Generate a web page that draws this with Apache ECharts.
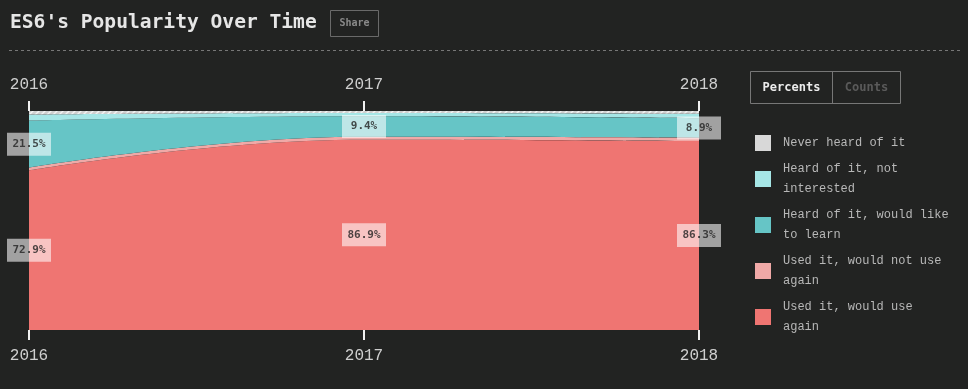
<!DOCTYPE html>
<html><head><meta charset="utf-8">
<script src="https://cdn.jsdelivr.net/npm/echarts@6/dist/echarts.min.js"></script>
<style>html,body{margin:0;padding:0;background:#222322;}#c{width:968px;height:389px;}</style>
</head><body><div id="c"></div>
<script>
var years = ['2016', '2017', '2018'];
var usedWouldUse = [72.9, 86.9, 86.3];
var usedNotAgain = [1.2, 1.3, 1.5];
var wouldLearn = [21.5, 9.4, 8.9];
var notInterested = [2.8, 1.5, 2.0];
var neverHeard = [1.6, 0.9, 1.3];
var seriesNames = ['Used it, would use again', 'Used it, would not use again', 'Heard of it, would like to learn', 'Heard of it, not interested', 'Never heard of it'];
var legendLabels = {
  'Never heard of it': 'Never heard of it',
  'Heard of it, not interested': 'Heard of it, not\ninterested',
  'Heard of it, would like to learn': 'Heard of it, would like\nto learn',
  'Used it, would not use again': 'Used it, would not use\nagain',
  'Used it, would use again': 'Used it, would use\nagain'
};
var colors = ['#ef7572', '#f0a9a7', '#66c5c6', '#a6e6e6', '#d8d8d8'];

// hatch pattern for "never heard"
var pc = document.createElement('canvas');
pc.width = 6; pc.height = 6;
var px = pc.getContext('2d');
px.fillStyle = '#cfcfcf'; px.fillRect(0,0,6,6);
px.strokeStyle = '#f2f2f2'; px.lineWidth = 1.5;
px.beginPath(); px.moveTo(0,6); px.lineTo(6,0); px.moveTo(-3,3); px.lineTo(3,-3); px.moveTo(3,9); px.lineTo(9,3); px.stroke();

var values = [usedWouldUse, usedNotAgain, wouldLearn, notInterested, neverHeard];
var series = values.map(function (v, k) {
  return {
    name: seriesNames[k], type: 'line', stack: 'all', smooth: 0.45, symbol: 'none',
    data: v, lineStyle: {width: 0},
    itemStyle: {color: colors[k]},
    areaStyle: {color: k === 4 ? {image: pc, repeat: 'repeat'} : colors[k], opacity: 1},
    emphasis: {disabled: true}, silent: true
  };
});
var labelData = [];
years.forEach(function (y, i) {
  labelData.push({value: [i, usedWouldUse[i] / 2], txt: usedWouldUse[i].toFixed(1) + '%'});
  var base = usedWouldUse[i] + usedNotAgain[i];
  labelData.push({value: [i, base + wouldLearn[i] / 2], txt: wouldLearn[i].toFixed(1) + '%'});
});
series.push({
  type: 'scatter', symbolSize: 0, data: labelData, silent: true, z: 10,
  label: {show: true, position: 'inside', formatter: function (p) { return p.data.txt; },
    backgroundColor: 'rgba(255,255,255,0.72)', color: '#222', fontWeight: 'bold',
    fontFamily: 'DejaVu Sans Mono', fontSize: 11, padding: [6, 5], width: 34, align: 'center'}
});

var axisCommon = {
  type: 'category', data: years, boundaryGap: false,
  axisLine: {show: false},
  axisTick: {show: true, alignWithLabel: true, length: 10, lineStyle: {color: '#f0f0f0', width: 2}},
  axisLabel: {color: '#cfcfcf', fontFamily: 'Liberation Mono', fontSize: 16, margin: 18},
  splitLine: {show: false}
};
var chart = echarts.init(document.getElementById('c'));
chart.setOption({
  backgroundColor: '#222322',
  animation: false,
  grid: {left: 29, right: 269, top: 111, bottom: 59},
  xAxis: [Object.assign({}, axisCommon, {position: 'bottom'}),
          Object.assign({}, axisCommon, {position: 'top'})],
  yAxis: {type: 'value', min: 0, max: 100, show: false},
  legend: {
    orient: 'vertical', left: 755, top: 133, padding: 0, itemWidth: 16, itemHeight: 16, itemGap: 6,
    icon: 'rect', data: seriesNames.slice().reverse(), selectedMode: false,
    formatter: function (n) { return legendLabels[n]; },
    textStyle: {color: '#b8b8b8', fontFamily: 'Liberation Mono', fontSize: 12, lineHeight: 20, padding: [0, 0, 0, 7]}
  },
  graphic: [
    {type: 'text', left: 10, top: 13, style: {text: "ES6's Popularity Over Time", fill: '#e6e6e6', font: 'bold 19.6px "DejaVu Sans Mono"'}},
    {type: 'rect', shape: {x: 330.5, y: 10.5, width: 48, height: 26}, style: {fill: 'none', stroke: '#6a6a6a', lineWidth: 1}},
    {type: 'text', x: 354.5, y: 23.5, style: {text: 'Share', fill: '#8a8a8a', font: 'bold 10px "DejaVu Sans Mono"', align: 'center', verticalAlign: 'middle'}},
    {type: 'line', shape: {x1: 9, y1: 50.5, x2: 960, y2: 50.5}, style: {stroke: '#777', lineWidth: 1, lineDash: [3, 3]}},
    {type: 'rect', shape: {x: 750.5, y: 71.5, width: 150, height: 32}, style: {fill: 'none', stroke: '#777', lineWidth: 1}},
    {type: 'line', shape: {x1: 832.5, y1: 71.5, x2: 832.5, y2: 103.5}, style: {stroke: '#777', lineWidth: 1}},
    {type: 'text', x: 791.5, y: 88, style: {text: 'Percents', fill: '#ececec', font: 'bold 12px "DejaVu Sans Mono"', align: 'center', verticalAlign: 'middle'}},
    {type: 'text', x: 866.5, y: 88, style: {text: 'Counts', fill: '#5a5a5a', font: 'bold 12px "DejaVu Sans Mono"', align: 'center', verticalAlign: 'middle'}}
  ],
  series: series
});
</script></body></html>
